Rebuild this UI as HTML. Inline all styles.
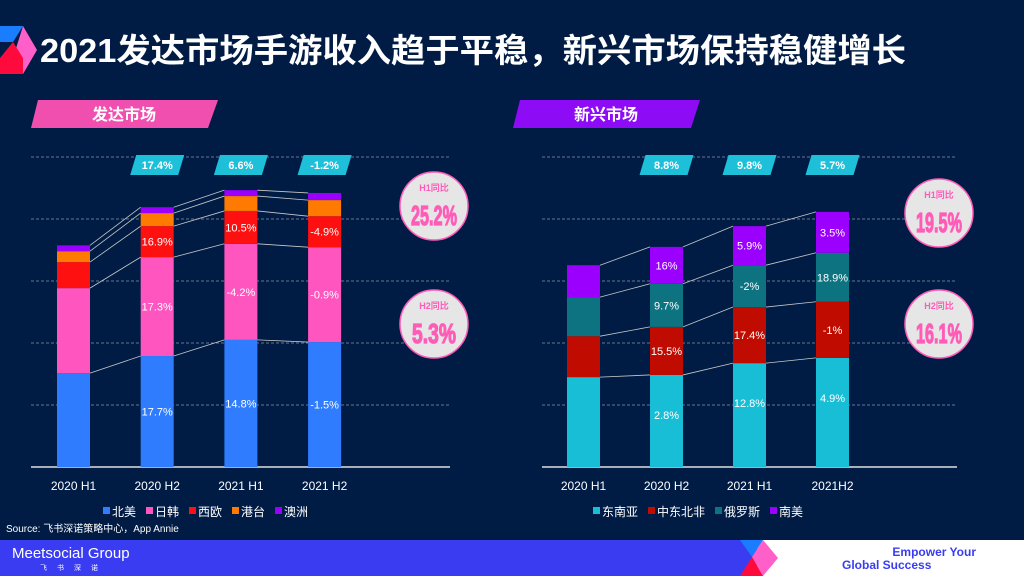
<!DOCTYPE html>
<html><head><meta charset="utf-8">
<style>
body{margin:0;width:1024px;height:576px;overflow:hidden;background:#001c45;font-family:"Liberation Sans","Noto Sans CJK SC",sans-serif;}
svg{display:block}
.big{font-family:"Liberation Sans",sans-serif;font-weight:bold;stroke:#ff5cb8;stroke-width:1.2;}
</style></head>
<body>
<svg width="1024" height="576" viewBox="0 0 1024 576">
<rect width="1024" height="576" fill="#001c45"/>
<g>
<polygon points="0,26 23,26 13,42 0,42" fill="#1a7cff"/>
<polygon points="23,26 37,50 23,74 13,58" fill="#ff5fc8"/>
<polygon points="0,58 13,42 23,58 23,74 0,74" fill="#ff0a3c"/>
</g>
<text x="40" y="62" fill="#fff" font-size="33" font-weight="bold" textLength="866" lengthAdjust="spacingAndGlyphs">2021发达市场手游收入趋于平稳，新兴市场保持稳健增长</text>
<g>
<polygon points="38,100 218,100 208,128 31,128" fill="#f04fb0"/>
<text x="124" y="120" fill="#fff" font-size="16" font-weight="bold" text-anchor="middle">发达市场</text>
</g>
<g>
<polygon points="520,100 700,100 691,128 513,128" fill="#8e0cf5"/>
<text x="606" y="120" fill="#fff" font-size="16" font-weight="bold" text-anchor="middle">新兴市场</text>
</g>
<g id="left"></g>
<g id="right"></g>
<g><circle cx="434" cy="206" r="34" fill="#e6e6e6" stroke="#ff5cb8" stroke-width="1.5"/><text x="434" y="191" fill="#ff5cb8" font-size="9" font-weight="bold" text-anchor="middle">H1同比</text><text class="big" x="434" y="225" fill="#ff5cb8" font-size="28" text-anchor="middle" textLength="46" lengthAdjust="spacingAndGlyphs">25.2%</text></g>
<g><circle cx="434" cy="324" r="34" fill="#e6e6e6" stroke="#ff5cb8" stroke-width="1.5"/><text x="434" y="309" fill="#ff5cb8" font-size="9" font-weight="bold" text-anchor="middle">H2同比</text><text class="big" x="434" y="343" fill="#ff5cb8" font-size="28" text-anchor="middle" textLength="44" lengthAdjust="spacingAndGlyphs">5.3%</text></g>
<g><circle cx="939" cy="213" r="34" fill="#e6e6e6" stroke="#ff5cb8" stroke-width="1.5"/><text x="939" y="198" fill="#ff5cb8" font-size="9" font-weight="bold" text-anchor="middle">H1同比</text><text class="big" x="939" y="232" fill="#ff5cb8" font-size="28" text-anchor="middle" textLength="46" lengthAdjust="spacingAndGlyphs">19.5%</text></g>
<g><circle cx="939" cy="324" r="34" fill="#e6e6e6" stroke="#ff5cb8" stroke-width="1.5"/><text x="939" y="309" fill="#ff5cb8" font-size="9" font-weight="bold" text-anchor="middle">H2同比</text><text class="big" x="939" y="343" fill="#ff5cb8" font-size="28" text-anchor="middle" textLength="46" lengthAdjust="spacingAndGlyphs">16.1%</text></g>
<text x="6" y="532" fill="#fff" font-size="10">Source: 飞书深诺策略中心，App Annie</text>
<g>
<rect x="0" y="540" width="1024" height="36" fill="#3a3cf2"/>
<polygon points="757,540 1024,540 1024,576 757,576" fill="#fff"/>
<polygon points="740,540 763,540 752,557" fill="#1a7cff"/>
<polygon points="763,540 778,558 763,576 752,557" fill="#ff5fc8"/>
<polygon points="740,576 752,557 763,576" fill="#ff0a3c"/>
<text x="12" y="558" fill="#fff" font-size="15">Meetsocial Group</text>
<text x="40" y="570" fill="#fff" font-size="7" letter-spacing="10">飞书深诺</text>
<text x="976" y="556" fill="#3a3cf2" font-size="12" font-weight="bold" text-anchor="end">Empower Your</text>
<text x="842" y="569" fill="#3a3cf2" font-size="12" font-weight="bold">Global Success</text>
</g>
</svg>
<script>
const NS="http://www.w3.org/2000/svg";
const leftCats=["2020 H1","2020 H2","2021 H1","2021 H2"];
const leftSeries=["北美","日韩","西欧","港台","澳洲"];
const leftColors=["#2f7cff","#ff55be","#ff1010","#ff7a00","#9b00ff"];
const leftNA=[30.3,35.8,41,40.3];
const leftJK=[27.4,31.9,31,30.6];
const leftWE=[8.4,10,10.6,10];
const leftHT=[3.5,4.2,4.8,5.2];
const leftAU=[1.9,1.9,1.9,2.3];
const leftLabNA=["","17.7%","14.8%","-1.5%"];
const leftLabJK=["","17.3%","-4.2%","-0.9%"];
const leftLabWE=["","16.9%","10.5%","-4.9%"];
const leftGrowth=["","17.4%","6.6%","-1.2%"];
const rightCats=["2020 H1","2020 H2","2021 H1","2021H2"];
const rightSeries=["东南亚","中东北非","俄罗斯","南美"];
const rightColors=["#17bed6","#c00c00","#0e7380","#9b00ff"];
const rightSEA=[29,29.7,33.5,35.2];
const rightMENA=[13.2,15.5,18.1,18.1];
const rightRU=[12.6,13.9,13.5,15.8];
const rightSA=[10.3,11.9,12.6,13.2];
const rightLabSEA=["","2.8%","12.8%","4.9%"];
const rightLabMENA=["","15.5%","17.4%","-1%"];
const rightLabRU=["","9.7%","-2%","18.9%"];
const rightLabSA=["","16%","5.9%","3.5%"];
const rightGrowth=["","8.8%","9.8%","5.7%"];
const yMax=100, yTop=157, yBase=467;
function yScale(v){return yBase-(v/yMax)*(yBase-yTop);}
function el(t,a,p){const e=document.createElementNS(NS,t);for(const k in a)e.setAttribute(k,a[k]);p.appendChild(e);return e;}
function chart(g,x0,x1,firstBar,step,cats,series,colors,vals,labs,growth,legendX,prefix,clamp){
  for(let i=0;i<=5;i++){
    const y=yScale(i*20);
    const l=el("line",{x1:x0,x2:x1,y1:y,y2:y,stroke:i==0?"#e0e0e0":"#8a93a8","stroke-width":i==0?1.5:0.8,"stroke-dasharray":i==0?"":"3,2"},g);
    
    
  }
  const bw=33;
  const xs=cats.map((c,i)=>firstBar+i*step);
  const tops=cats.map((c,i)=>{let s=0;return vals.map(v=>{s+=v[i];return s;});});
  cats.forEach((c,i)=>{
    let prev=0;
    vals.forEach((v,k)=>{
      const r=el("rect",{x:xs[i],y:yScale(tops[i][k]),width:bw,height:yScale(prev)-yScale(tops[i][k]),fill:colors[k]},g);
      
      
      if(labs[k]&&labs[k][i]){
        let ly=(yScale(prev)+yScale(tops[i][k]))/2+4;
        if(k==0&&clamp) ly=Math.min(ly,yScale(tops[i][k])+44);
        const t=el("text",{x:xs[i]+bw/2,y:ly,fill:"#fff","font-size":"11","text-anchor":"middle"},g);
        t.textContent=labs[k][i];
        
        
      }
      prev=tops[i][k];
    });
    if(i<cats.length-1){
      vals.forEach((v,k)=>{
        const ln=el("line",{x1:xs[i]+bw,y1:yScale(tops[i][k]),x2:xs[i+1],y2:yScale(tops[i+1][k]),stroke:"#c8c8c8","stroke-width":0.8},g);
        
        
      });
    }
    const xl=el("text",{x:xs[i]+bw/2,y:490,fill:"#fff","font-size":"12","text-anchor":"middle"},g);
    xl.textContent=c;
    
    
    if(growth[i]){
      const cx=xs[i]+bw/2;
      const tg=el("g",{},g);
      
      
      el("polygon",{points:`${cx-21},155 ${cx+27},155 ${cx+21},175 ${cx-27},175`,fill:"#1dbfd9"},tg);
      const tt=el("text",{x:cx,y:169,fill:"#fff","font-size":"11","font-weight":"bold","text-anchor":"middle"},tg);
      tt.textContent=growth[i];
    }
  });
  let lx=legendX;
  series.forEach((s,k)=>{
    const lg=el("g",{},g);
    
    
    el("rect",{x:lx,y:507,width:7,height:7,fill:colors[k]},lg);
    const t=el("text",{x:lx+9,y:516,fill:"#fff","font-size":"12"},lg);
    t.textContent=s;
    lx+=9+s.length*12+10;
  });
}
chart(document.getElementById("left"),31,450,57,83.7,leftCats,leftSeries,leftColors,[leftNA,leftJK,leftWE,leftHT,leftAU],[leftLabNA,leftLabJK,leftLabWE,null,null],leftGrowth,103,'developed',false);
chart(document.getElementById("right"),542,957,567,83,rightCats,rightSeries,rightColors,[rightSEA,rightMENA,rightRU,rightSA],[rightLabSEA,rightLabMENA,rightLabRU,rightLabSA],rightGrowth,593,'emerging',true);
</script>
</body></html>
